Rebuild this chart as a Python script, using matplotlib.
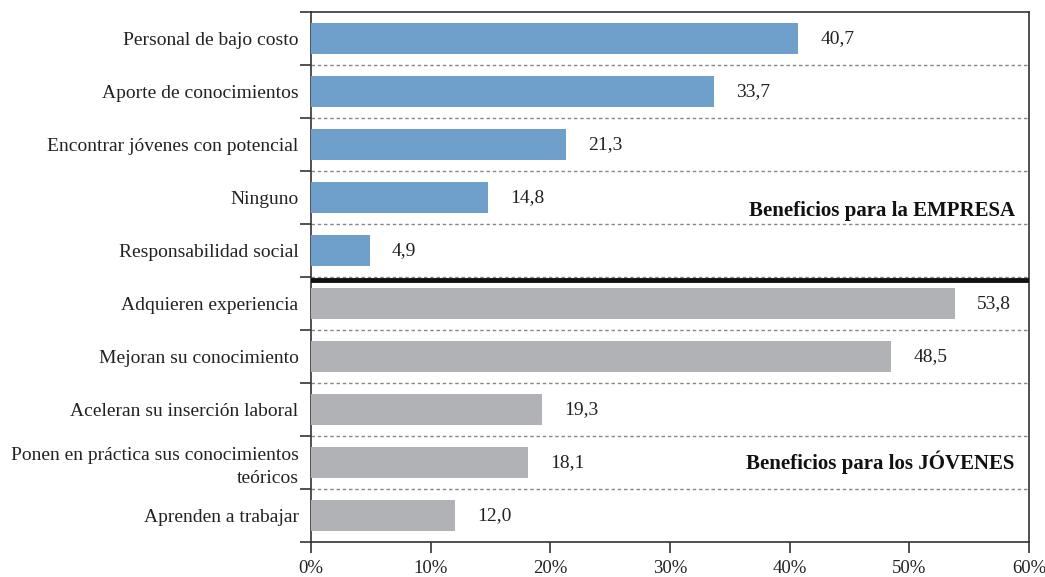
import matplotlib
matplotlib.use("Agg")
import matplotlib.pyplot as plt
import numpy as np

categories = [
    "Personal de bajo costo",
    "Aporte de conocimientos",
    "Encontrar jóvenes con potencial",
    "Ninguno",
    "Responsabilidad social",
    "Adquieren experiencia",
    "Mejoran su conocimiento",
    "Aceleran su inserción laboral",
    "Ponen en práctica sus conocimientos\nteóricos",
    "Aprenden a trabajar",
]
values = [40.7, 33.7, 21.3, 14.8, 4.9, 53.8, 48.5, 19.3, 18.1, 12.0]
groups = ["empresa"] * 5 + ["jovenes"] * 5
group_colors = {"empresa": "#6FA0CC", "jovenes": "#B1B2B5"}
xticks = [0, 10, 20, 30, 40, 50, 60]
xtick_labels = ["0%", "10%", "20%", "30%", "40%", "50%", "60%"]
group_titles = ["Beneficios para la EMPRESA", "Beneficios para los JÓVENES"]

plt.rcParams['font.family'] = ['Liberation Serif', 'DejaVu Serif']

fig = plt.figure(figsize=(10.45, 5.77), dpi=100)
ax = fig.add_axes([311/1045, 1 - 542/577, (1029 - 311)/1045, (542 - 12)/577])

y = np.arange(len(categories))
colors = [group_colors[g] for g in groups]
ax.barh(y, values, height=0.57, color=colors, zorder=3)

FS = 14
for yi, v in zip(y, values):
    ax.text(v + 1.85, yi, f"{v:.1f}".replace(".", ","), va="center", ha="left",
            fontsize=FS, color="#222222")

ax.set_xlim(0, 60)
ax.set_ylim(len(categories) - 0.5, -0.5)
ax.set_yticks(y)
ax.set_yticklabels(categories, fontsize=FS, color="#222222", ha="right",
                   linespacing=1.45)
ax.tick_params(axis="y", which="major", length=0, pad=9)
ax.set_yticks(np.arange(-0.5, len(categories)), minor=True)
ax.tick_params(axis="y", which="minor", length=8, width=1.2, color="#333333", direction="out")
ax.set_xticks(xticks)
ax.set_xticklabels(xtick_labels, fontsize=13.5, color="#222222")
ax.tick_params(axis="x", length=8, width=1.2, color="#333333", direction="out", pad=5)

for b in np.arange(0.5, len(categories) - 0.5):
    ax.axhline(b, color="#888888", lw=1, linestyle=(0, (2.5, 2)), zorder=1)

ax.axhline(4.56, color="#111111", lw=3.5, zorder=4)

for s in ["left", "right", "top", "bottom"]:
    ax.spines[s].set_linewidth(1.2)
    ax.spines[s].set_color("#333333")

ax.text(58.8, 3.25, group_titles[0], ha="right", va="center", fontsize=15,
        fontweight="bold", color="#111111")
ax.text(58.8, 8.0, group_titles[1], ha="right", va="center", fontsize=15,
        fontweight="bold", color="#111111")

fig.savefig("out.png", dpi=100)
